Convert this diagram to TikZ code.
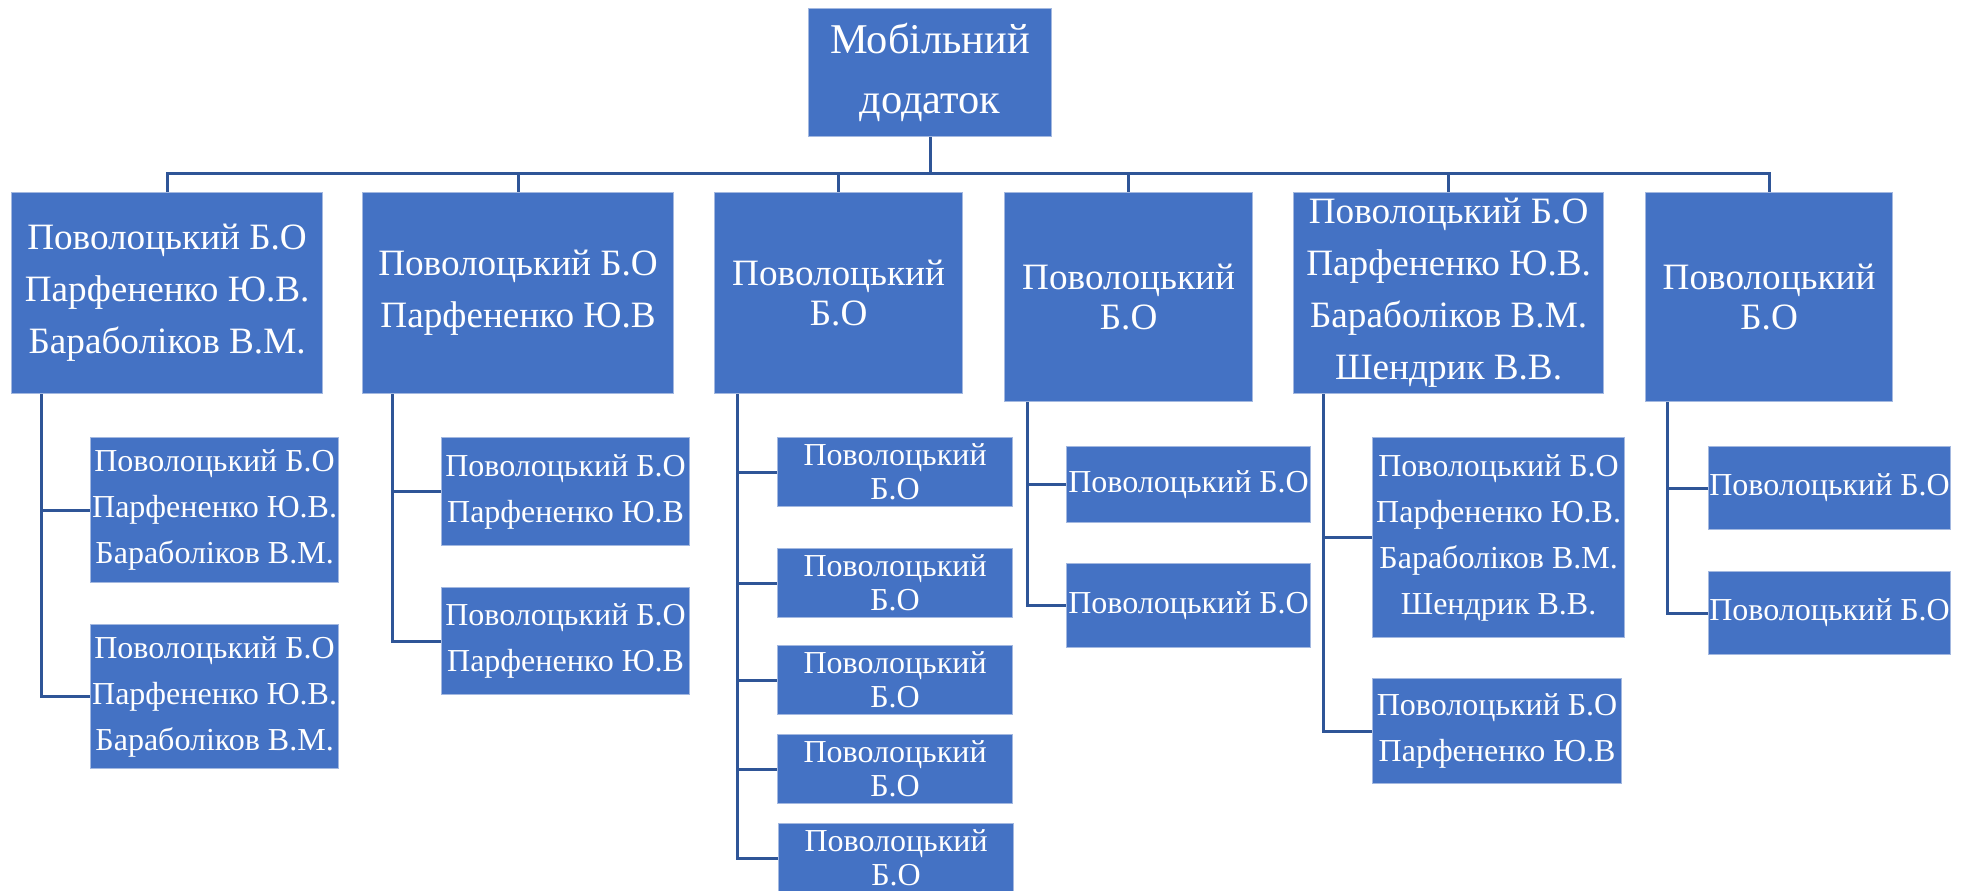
\documentclass[tikz,border=0pt]{standalone}
\usepackage{fontspec}
\setmainfont{Liberation Serif}
\definecolor{boxblue}{HTML}{4472C4}
\definecolor{linkblue}{HTML}{2F5597}
\definecolor{edgeblue}{HTML}{A3B8E0}
\begin{document}
\begin{tikzpicture}[x=0.5pt,y=-0.5pt,
  box/.style={draw=edgeblue, line width=0.6pt, fill=boxblue, text=white,
              inner sep=0pt, anchor=north west, align=center},
  rootbox/.style={box, font=\fontsize{21.2}{30}\selectfont},
  headbox/.style={box, font=\fontsize{18.6}{26}\selectfont},
  headwrap/.style={box, font=\fontsize{18.6}{20}\selectfont},
  subbox/.style={box, font=\fontsize{16}{23}\selectfont},
  subwrap/.style={box, font=\fontsize{16}{17}\selectfont},
  link/.style={draw=linkblue, line width=1.5pt}]
\useasboundingbox (0,0) rectangle (1968,890);

% root
\node[rootbox, minimum width=121.5pt, minimum height=64pt] (root) at (808,8) {Мобільний\\додаток};

% first level
\node[headbox, minimum width=155.5pt, minimum height=100.5pt] (b1) at (11,192)
  {Поволоцький Б.О\\Парфененко Ю.В.\\Бараболіков В.М.};
\node[headbox, minimum width=155.5pt, minimum height=100.5pt] (b2) at (362,192)
  {Поволоцький Б.О\\Парфененко Ю.В};
\node[headwrap, minimum width=124pt, minimum height=100.5pt] (b3) at (714,192)
  {Поволоцький\\Б.О};
\node[headwrap, minimum width=124pt, minimum height=104.5pt] (b4) at (1004,192)
  {Поволоцький\\Б.О};
\node[headbox, minimum width=155pt, minimum height=100.5pt] (b5) at (1293,192)
  {Поволоцький Б.О\\Парфененко Ю.В.\\Бараболіков В.М.\\Шендрик В.В.};
\node[headwrap, minimum width=123.5pt, minimum height=104.5pt] (b6) at (1645,192)
  {Поволоцький\\Б.О};

% second level
\node[subbox, minimum width=124pt, minimum height=72.5pt] (c1a) at (90,437)
  {Поволоцький Б.О\\Парфененко Ю.В.\\Бараболіков В.М.};
\node[subbox, minimum width=124pt, minimum height=72pt] (c1b) at (90,624)
  {Поволоцький Б.О\\Парфененко Ю.В.\\Бараболіков В.М.};

\node[subbox, minimum width=124pt, minimum height=54pt] (c2a) at (441,437)
  {Поволоцький Б.О\\Парфененко Ю.В};
\node[subbox, minimum width=124pt, minimum height=53.5pt] (c2b) at (441,587)
  {Поволоцький Б.О\\Парфененко Ю.В};

\node[subwrap, minimum width=117.5pt, minimum height=34.5pt] (c3a) at (777,437) {Поволоцький\\Б.О};
\node[subwrap, minimum width=117.5pt, minimum height=34.5pt] (c3b) at (777,548) {Поволоцький\\Б.О};
\node[subwrap, minimum width=117.5pt, minimum height=34.5pt] (c3c) at (777,645) {Поволоцький\\Б.О};
\node[subwrap, minimum width=117.5pt, minimum height=34.5pt] (c3d) at (777,734) {Поволоцький\\Б.О};
\node[subwrap, minimum width=117.5pt, minimum height=34.5pt] (c3e) at (778,823) {Поволоцький\\Б.О};

\node[subbox, minimum width=122pt, minimum height=38pt] (c4a) at (1066,446) {Поволоцький Б.О};
\node[subbox, minimum width=122pt, minimum height=42pt] (c4b) at (1066,563) {Поволоцький Б.О};

\node[subbox, minimum width=126pt, minimum height=100pt] (c5a) at (1372,437)
  {Поволоцький Б.О\\Парфененко Ю.В.\\Бараболіков В.М.\\Шендрик В.В.};
\node[subbox, minimum width=124.5pt, minimum height=52.5pt] (c5b) at (1372,678)
  {Поволоцький Б.О\\Парфененко Ю.В};

\node[subbox, minimum width=121pt, minimum height=41.5pt] (c6a) at (1708,446) {Поволоцький Б.О};
\node[subbox, minimum width=121pt, minimum height=41.5pt] (c6b) at (1708,571) {Поволоцький Б.О};

% root to first level
\foreach \b in {b1,b2,b3,b4,b5,b6}
  \draw[link] (root.south) -- ++(0,36) -| (\b.north);

% first level to second level
\draw[link] ([xshift=15pt]b1.south west) |- (c1a.west);
\draw[link] ([xshift=15pt]b1.south west) |- (c1b.west);
\draw[link] ([xshift=15pt]b2.south west) |- (c2a.west);
\draw[link] ([xshift=15pt]b2.south west) |- (c2b.west);
\foreach \c in {c3a,c3b,c3c,c3d,c3e}
  \draw[link] ([xshift=11.5pt]b3.south west) |- (\c.west);
\draw[link] ([xshift=11.5pt]b4.south west) |- (c4a.west);
\draw[link] ([xshift=11.5pt]b4.south west) |- (c4b.west);
\draw[link] ([xshift=15pt]b5.south west) |- (c5a.west);
\draw[link] ([xshift=15pt]b5.south west) |- (c5b.west);
\draw[link] ([xshift=11pt]b6.south west) |- (c6a.west);
\draw[link] ([xshift=11pt]b6.south west) |- (c6b.west);
\end{tikzpicture}
\end{document}
